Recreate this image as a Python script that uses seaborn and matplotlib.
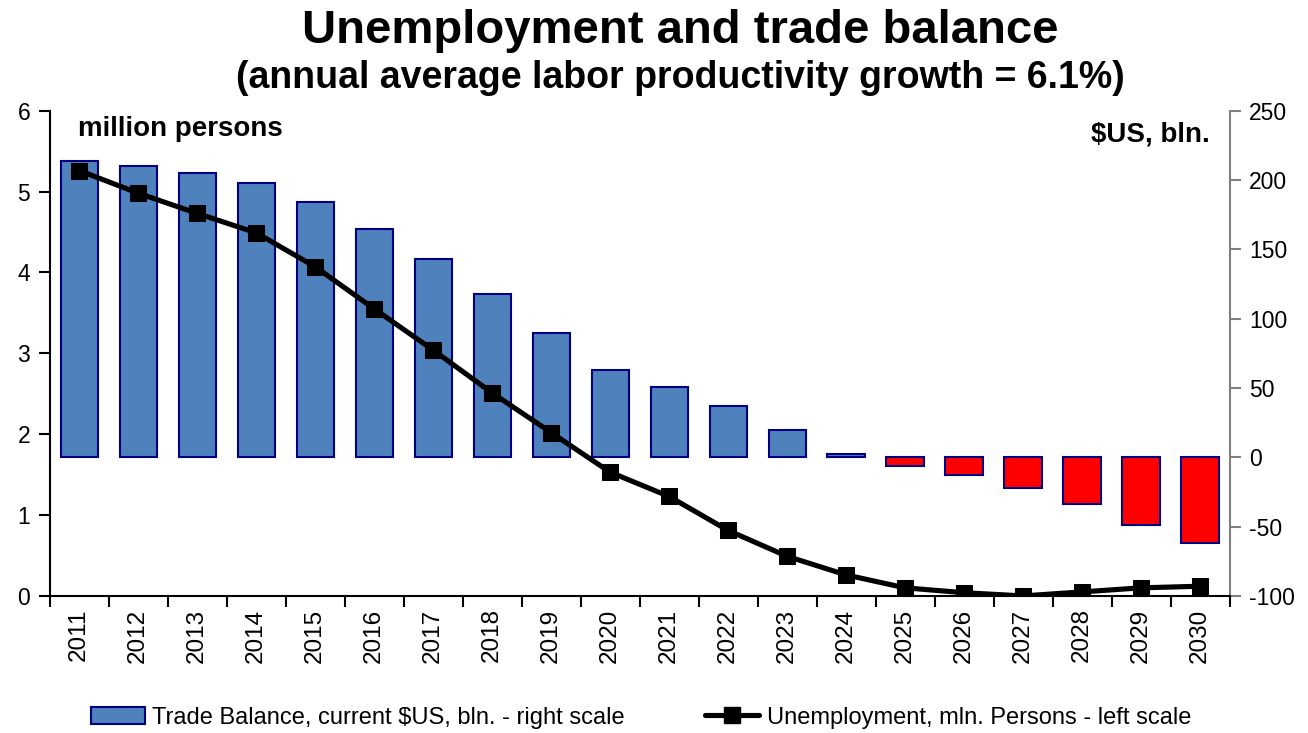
import numpy as np
import pandas as pd
import matplotlib
matplotlib.use("Agg")
import matplotlib.pyplot as plt
from matplotlib.patches import Patch
from matplotlib.lines import Line2D
import seaborn as sns

# Data
years = [str(y) for y in range(2011, 2031)]
trade_balance = [214, 210, 205, 198, 184, 165, 143, 118, 90, 63,
                 51, 37, 20, 2.5, -6, -13, -22, -34, -49, -62]
unemployment = [5.26, 4.98, 4.73, 4.49, 4.07, 3.55, 3.04, 2.51, 2.02, 1.53,
                1.23, 0.81, 0.49, 0.26, 0.10, 0.04, 0.00, 0.05, 0.10, 0.12]

title = "Unemployment and trade balance"
subtitle = "(annual average labor productivity growth = 6.1%)"
left_unit = "million persons"
right_unit = "$US, bln."
bar_label = "Trade Balance, current $US, bln. - right scale"
line_label = "Unemployment, mln. Persons - left scale"

sns.set_style("white")
plt.rcParams["font.family"] = ["Liberation Sans", "DejaVu Sans"]
plt.rcParams["axes.unicode_minus"] = False
plt.rcParams["text.color"] = "black"
plt.rcParams["xtick.color"] = "black"
plt.rcParams["ytick.color"] = "black"
plt.rcParams["xtick.labelcolor"] = "black"
plt.rcParams["ytick.labelcolor"] = "black"

df = pd.DataFrame({"year": years, "trade": trade_balance, "unemp": unemployment})
df["pos"] = np.arange(len(df))

blue = "#4F81BD"
red = "#FF0000"
navy = "#000080"
bar_colors = {y: (blue if v >= 0 else red) for y, v in zip(years, trade_balance)}

fig = plt.figure(figsize=(13.08, 7.33), dpi=100)
ax = fig.add_axes([0.038, 0.187, 0.902, 0.662])
ax2 = ax.twinx()

# Trade balance bars on the right scale
sns.barplot(data=df, x="year", y="trade", hue="year", palette=bar_colors,
            legend=False, width=0.63, edgecolor=navy, linewidth=1.5,
            saturation=1, ax=ax2)

# Unemployment line on the left scale, drawn above the bars
sns.lineplot(data=df, x="pos", y="unemp", color="black", linewidth=3.7,
             marker="s", markersize=11, markeredgecolor="black", ax=ax)
ax.set_zorder(ax2.get_zorder() + 1)
ax.patch.set_visible(False)

n = len(years)
for a in (ax, ax2):
    a.set_xlim(-0.5, n - 0.5)
    a.set_xlabel("")
    a.set_ylabel("")

ax.set_ylim(0, 6)
ax.set_yticks(range(0, 7))
ax2.set_ylim(-100, 250)
ax2.set_yticks(range(-100, 251, 50))

ax.set_xticks(np.arange(n))
ax.set_xticklabels(years, rotation=90, fontsize=17.5)
ax.set_xticks(np.arange(-0.5, n, 1.0), minor=True)
ax.tick_params(axis="x", which="major", length=0, pad=9)
ax.tick_params(axis="x", which="minor", length=8, width=1.5, direction="out",
               color="black", bottom=True)
ax2.tick_params(axis="x", which="both", length=0, labelbottom=False)

ax.tick_params(axis="y", which="major", length=8, width=1.5, direction="out",
               labelsize=16.5, color="black", left=True, pad=6)
ax2.tick_params(axis="y", which="major", length=8, width=1.5, direction="out",
                labelsize=16.5, color="#808080", right=True, pad=6)

for a in (ax, ax2):
    a.spines["top"].set_visible(False)
ax.spines["right"].set_visible(False)
ax2.spines["left"].set_visible(False)
ax2.spines["bottom"].set_visible(False)
ax.spines["left"].set_color("black")
ax.spines["left"].set_linewidth(1.5)
ax.spines["bottom"].set_color("black")
ax.spines["bottom"].set_linewidth(1.5)
ax2.spines["right"].set_color("#808080")
ax2.spines["right"].set_linewidth(1.5)

ax.text(0.024, 0.962, left_unit, transform=ax.transAxes, fontsize=20,
        fontweight="bold", ha="left", va="center")
ax2.text(0.983, 0.95, right_unit, transform=ax2.transAxes, fontsize=20,
         fontweight="bold", ha="right", va="center")

fig.text(0.52, 0.958, title, fontsize=34, fontweight="bold", ha="center", va="center")
fig.text(0.52, 0.893, subtitle, fontsize=27, fontweight="bold", ha="center", va="center")

handles = [
    Patch(facecolor=blue, edgecolor=navy, linewidth=1.5, label=bar_label),
    Line2D([0], [0], color="black", linewidth=3.7, marker="s", markersize=11,
           label=line_label),
]
fig.legend(handles=handles, loc="center", bbox_to_anchor=(0.49, 0.021), ncol=2,
           frameon=False, fontsize=17, handlelength=2.3, handleheight=0.7,
           handletextpad=0.3, columnspacing=3.4)

fig.savefig("out.png", dpi=100)
